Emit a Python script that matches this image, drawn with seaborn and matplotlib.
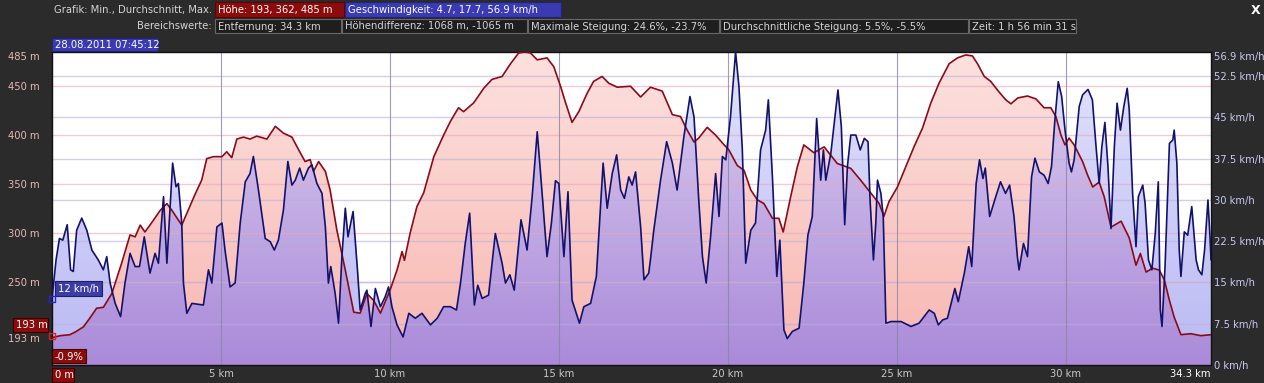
import numpy as np
import pandas as pd
import matplotlib
matplotlib.use("Agg")
import matplotlib.pyplot as plt
import matplotlib.transforms as mtransforms
from matplotlib.patches import Rectangle
import seaborn as sns

# Höhenprofil (km, m)
hoehe_km = [0.00, 0.25, 0.53, 0.70, 0.93, 1.10, 1.32, 1.52, 1.77, 2.06, 2.31, 2.46, 2.61, 2.75, 2.90,
            3.20, 3.40, 3.55, 3.84, 3.99, 4.24, 4.43, 4.58, 4.78, 5.03, 5.17, 5.32, 5.47, 5.67, 5.86,
            6.06, 6.36, 6.61, 6.85, 7.10, 7.30, 7.49, 7.64, 7.74, 7.89, 8.09, 8.23, 8.43, 8.68, 8.93,
            9.12, 9.32, 9.52, 9.72, 10.01, 10.21, 10.36, 10.43, 10.60, 10.80, 11.00, 11.30, 11.59, 11.79,
            12.03, 12.18, 12.48, 12.78, 13.02, 13.32, 13.57, 13.81, 14.00, 14.16, 14.36, 14.65, 14.85,
            15.05, 15.20, 15.39, 15.59, 15.84, 16.03, 16.28, 16.48, 16.73, 17.12, 17.42, 17.71, 18.06,
            18.36, 18.60, 18.80, 19.00, 19.14, 19.39, 19.64, 19.84, 20.03, 20.28, 20.48, 20.68, 20.87,
            21.07, 21.32, 21.51, 21.64, 21.86, 22.06, 22.25, 22.55, 22.85, 23.24, 23.64, 23.93, 24.23,
            24.48, 24.62, 24.77, 25.02, 25.27, 25.51, 25.76, 26.01, 26.25, 26.55, 26.80, 27.04, 27.24,
            27.39, 27.59, 27.78, 28.03, 28.23, 28.38, 28.58, 28.87, 29.12, 29.36, 29.56, 29.71, 29.86,
            29.98, 30.10, 30.25, 30.50, 30.65, 30.80, 30.99, 31.14, 31.34, 31.64, 31.88, 32.08, 32.21,
            32.38, 32.57, 32.77, 32.92, 33.07, 33.21, 33.41, 33.70, 34.00, 34.30]
hoehe_m = [193, 195, 196, 199, 204, 212, 223, 224, 238, 269, 298, 296, 308, 301, 308,
           323, 330, 323, 308, 320, 340, 354, 376, 378, 378, 383, 377, 396, 398, 396,
           399, 396, 409, 402, 398, 385, 373, 375, 363, 373, 363, 344, 303, 262, 219,
           218, 238, 231, 218, 242, 262, 281, 272, 300, 327, 341, 378, 400, 414,
           428, 424, 433, 448, 457, 460, 473, 484, 485, 484, 477, 479, 470,
           450, 433, 413, 424, 443, 455, 460, 453, 449, 450, 439, 449, 445,
           421, 419, 405, 393, 397, 408, 400, 392, 385, 369, 364, 344, 334,
           330, 315, 315, 301, 337, 368, 390, 382, 388, 371, 366, 354, 341,
           330, 317, 332, 347, 368, 388, 407, 433, 453, 473, 479, 482, 481,
           473, 460, 455, 444, 436, 432, 438, 440, 437, 428, 428, 419, 400,
           390, 397, 390, 373, 359, 347, 352, 337, 306, 312, 295, 267, 279,
           260, 264, 262, 252, 231, 214, 196, 197, 195, 196]

# Geschwindigkeit (km, km/h)
tempo_km = [0.00, 0.12, 0.22, 0.32, 0.45, 0.55, 0.63, 0.73, 0.88, 1.03, 1.18, 1.37, 1.52, 1.62, 1.72,
            1.87, 2.03, 2.16, 2.31, 2.46, 2.59, 2.73, 2.90, 3.05, 3.15, 3.30, 3.40, 3.50, 3.57, 3.67,
            3.74, 3.84, 3.89, 3.99, 4.14, 4.48, 4.63, 4.73, 4.88, 5.03, 5.12, 5.27, 5.42, 5.57, 5.72,
            5.86, 5.96, 6.11, 6.31, 6.46, 6.58, 6.70, 6.85, 6.98, 7.10, 7.20, 7.33, 7.44, 7.59, 7.69,
            7.84, 7.99, 8.09, 8.18, 8.25, 8.38, 8.48, 8.58, 8.68, 8.76, 8.91, 9.04, 9.12, 9.27, 9.32,
            9.44, 9.57, 9.72, 9.86, 9.96, 10.06, 10.21, 10.39, 10.56, 10.75, 10.95, 11.20, 11.40, 11.59,
            11.79, 11.97, 12.09, 12.23, 12.36, 12.50, 12.60, 12.73, 12.92, 13.12, 13.32, 13.42, 13.55,
            13.68, 13.88, 14.06, 14.21, 14.36, 14.45, 14.65, 14.78, 14.90, 15.00, 15.15, 15.27, 15.39,
            15.61, 15.74, 15.94, 16.11, 16.31, 16.43, 16.58, 16.71, 16.83, 16.94, 17.07, 17.17, 17.27,
            17.42, 17.52, 17.66, 17.71, 17.81, 18.01, 18.19, 18.36, 18.50, 18.70, 18.88, 19.00, 19.14,
            19.25, 19.36, 19.49, 19.64, 19.74, 19.84, 19.94, 20.08, 20.23, 20.33, 20.43, 20.53, 20.68,
            20.82, 20.97, 21.12, 21.20, 21.32, 21.45, 21.54, 21.66, 21.76, 21.91, 22.11, 22.25, 22.37,
            22.50, 22.63, 22.75, 22.83, 22.90, 23.05, 23.17, 23.26, 23.36, 23.46, 23.54, 23.64, 23.79,
            23.92, 24.04, 24.15, 24.21, 24.31, 24.38, 24.43, 24.53, 24.60, 24.68, 24.83, 25.13, 25.42,
            25.66, 25.96, 26.11, 26.23, 26.36, 26.50, 26.72, 26.82, 27.00, 27.13, 27.22, 27.35, 27.45,
            27.55, 27.62, 27.75, 27.90, 28.07, 28.22, 28.34, 28.47, 28.57, 28.62, 28.75, 28.87, 28.99,
            29.09, 29.22, 29.36, 29.48, 29.58, 29.68, 29.78, 29.88, 29.98, 30.10, 30.17, 30.25, 30.40,
            30.50, 30.66, 30.79, 30.89, 30.99, 31.07, 31.16, 31.25, 31.34, 31.44, 31.52, 31.62, 31.72,
            31.82, 31.88, 31.98, 32.08, 32.15, 32.28, 32.35, 32.45, 32.55, 32.65, 32.74, 32.80, 32.85,
            32.94, 33.07, 33.17, 33.21, 33.29, 33.36, 33.41, 33.51, 33.61, 33.73, 33.86, 33.93, 34.03,
            34.11, 34.21, 34.27, 34.30]
tempo_kmh = [12.0, 19.1, 23.0, 22.7, 25.5, 17.3, 17.0, 24.5, 26.7, 24.5, 20.9, 19.1, 17.3, 19.7, 14.9,
             11.2, 8.8, 14.9, 20.3, 17.9, 17.9, 23.3, 16.7, 20.3, 18.5, 30.6, 18.5, 29.4, 36.7, 32.4,
             33.0, 25.8, 14.9, 9.4, 11.2, 10.9, 17.3, 14.9, 25.1, 25.8, 20.9, 14.2, 14.9, 25.8, 33.3,
             34.8, 37.9, 31.8, 23.0, 22.4, 20.9, 22.7, 28.2, 37.0, 32.7, 33.6, 35.8, 33.6, 35.8, 36.4,
             33.0, 31.2, 25.1, 14.9, 17.9, 13.0, 7.6, 19.7, 28.5, 23.3, 27.9, 17.3, 10.0, 13.0, 13.6,
             7.0, 13.9, 10.6, 12.4, 14.2, 10.6, 7.3, 5.1, 9.4, 8.5, 9.4, 7.3, 8.5, 10.6,
             10.6, 10.0, 14.9, 22.1, 27.6, 10.9, 14.5, 12.1, 12.7, 23.9, 18.5, 14.9, 16.4,
             13.6, 26.4, 20.9, 30.6, 42.4, 35.5, 19.7, 25.8, 33.5, 33.0, 19.7, 31.5, 11.8,
             7.6, 10.6, 11.2, 16.1, 36.7, 28.5, 34.8, 38.2, 31.8, 30.3, 34.2, 32.7, 35.1,
             25.1, 15.5, 16.7, 19.1, 24.5, 33.6, 40.6, 36.7, 31.8, 41.5, 48.8, 45.1, 30.0,
             19.7, 14.9, 23.3, 34.8, 27.0, 37.9, 37.3, 45.1, 56.9, 50.6, 39.1, 18.5, 24.5,
             25.8, 39.1, 42.7, 48.2, 34.2, 16.1, 22.7, 6.4, 4.8, 6.1, 6.7, 14.9, 23.6,
             27.0, 44.8, 33.6, 39.1, 33.6, 38.5, 45.1, 50.0, 43.3, 25.5, 36.1, 41.8, 41.8,
             39.1, 41.2, 40.6, 30.0, 19.1, 25.8, 33.6, 31.2, 27.0, 7.6, 7.9, 7.9, 7.0,
             7.6, 10.0, 9.4, 7.3, 8.2, 8.5, 13.9, 11.5, 16.7, 21.5, 17.9, 33.0, 37.3,
             33.9, 35.8, 27.0, 30.0, 33.3, 31.2, 32.7, 27.0, 19.7, 17.3, 22.1, 19.7, 34.2,
             37.6, 35.1, 34.5, 33.0, 36.1, 44.5, 51.5, 48.8, 42.7, 36.7, 35.1, 37.3, 47.0,
             49.1, 50.1, 48.2, 40.3, 33.0, 39.7, 44.1, 36.1, 24.8, 39.7, 47.6, 42.7, 47.0,
             50.3, 46.4, 31.2, 21.5, 30.6, 32.7, 29.4, 19.1, 17.3, 23.9, 33.3, 10.0, 7.0,
             17.9, 40.3, 40.9, 42.7, 36.7, 20.9, 16.1, 24.2, 23.6, 28.8, 19.1, 17.3, 16.4,
             20.9, 30.0, 23.3, 19.1]

hoehe_ticks = [193, 250, 300, 350, 400, 450, 485]
tempo_ticks = [0, 7.5, 15, 22.5, 30, 37.5, 45, 52.5, 56.9]
km_ticks = [5, 10, 15, 20, 25, 30, 34.3]

hoehe = pd.DataFrame({"km": hoehe_km, "m": hoehe_m})
tempo = pd.DataFrame({"km": tempo_km, "kmh": tempo_kmh})

W, H = 1264, 383
BG = "#2b2b2b"
FS = 7.2
sns.set_theme(style="white")
plt.rcParams["font.family"] = ["DejaVu Sans"]
plt.rcParams["font.size"] = FS

fig = plt.figure(figsize=(W / 100, H / 100), dpi=100, facecolor=BG)
L, R, T, B = 52, 1211, 52, 365
ax = fig.add_axes([L / W, 1 - B / H, (R - L) / W, (B - T) / H])
ax.set_facecolor("white")
ax2 = ax.twinx()

HLIM = (165, 485)
SLIM = (0, 56.9)
XLIM = (0, 34.3)
ax.set_xlim(XLIM)
ax.set_ylim(HLIM)
ax2.set_ylim(SLIM)

# Flächen: Höhe rosa, Tempo blau, Überlappung lila
rosa = ax.fill_between(hoehe.km, HLIM[0], hoehe.m, color="#f8b6b0", lw=0, zorder=1)
ax.fill_between(tempo.km, 0, tempo.kmh, color="#bab9f4", lw=0, zorder=1.1, transform=ax2.transData)
lila = ax.fill_between(tempo.km, 0, tempo.kmh, color="#aa8ad9", lw=0, zorder=1.2, transform=ax2.transData)
lila.set_clip_path(rosa.get_paths()[0], ax.transData)

# heller Verlauf nach oben
grad = np.ones((256, 1, 4))
grad[:, 0, 3] = np.linspace(0.6, 0.0, 256)
ax.imshow(grad, extent=(0, 1, 0, 1), transform=ax.transAxes, aspect="auto",
          interpolation="bilinear", zorder=1.5)

# Gitterlinien
trans_s = mtransforms.blended_transform_factory(ax.transAxes, ax2.transData)
for v in hoehe_ticks[1:-1]:
    ax.axhline(v, color="#eaa6bc", lw=1, alpha=0.6, zorder=1.6)
for v in tempo_ticks[1:-1]:
    ax.plot([0, 1], [v, v], transform=trans_s, color="#b8b0dc", lw=1, alpha=0.6, zorder=1.6)
for k in km_ticks[:-1]:
    ax.axvline(k, color="#8a84a4", lw=0.8, alpha=0.8, zorder=1.7)

sns.lineplot(data=hoehe, x="km", y="m", ax=ax, color="#8c0a16", lw=1.2,
             estimator=None, sort=False, zorder=3)
sns.lineplot(data=tempo, x="km", y="kmh", ax=ax2, color="#12126e", lw=1.2,
             estimator=None, sort=False, zorder=3)

ax.set_xlim(XLIM)
ax.set_ylim(HLIM)
ax2.set_ylim(SLIM)
ax.set_xlabel("")
ax.set_ylabel("")
ax2.set_xlabel("")
ax2.set_ylabel("")

for sp in ax.spines.values():
    sp.set_color("#111111")
    sp.set_linewidth(1)
for sp in ax2.spines.values():
    sp.set_visible(False)

ax.set_yticks(hoehe_ticks)
ax.set_yticklabels([f"{v} m" for v in hoehe_ticks])
ax.tick_params(axis="y", length=0, pad=9, labelsize=FS, labelcolor="#e8b8b8")
ax2.set_yticks(tempo_ticks)
ax2.set_yticklabels([f"{v:g} km/h" for v in tempo_ticks])
ax2.tick_params(axis="y", length=0, pad=2, labelsize=FS, labelcolor="#c8c8f2")
ax.set_xticks(km_ticks)
ax.set_xticklabels([f"{v:g} km" for v in km_ticks])
ax.tick_params(axis="x", length=0, pad=3, labelsize=FS, labelcolor="#c8c8c8")
ax.get_yticklabels()[-1].set_va("top")
ax2.get_yticklabels()[-1].set_va("top")
ax.get_xticklabels()[-1].set_ha("right")
ax.get_xticklabels()[-1].set_color("white")


def fpos(x, y):
    return x / W, 1 - y / H


def box(x0, x1, y0, y1, text, fc, ec, tc="white", z=5):
    fig.add_artist(Rectangle(fpos(x0, y1), (x1 - x0) / W, (y1 - y0) / H,
                             transform=fig.transFigure, facecolor=fc, edgecolor=ec,
                             lw=0.8, zorder=z))
    fig.text(*fpos(x0 + 3, (y0 + y1) / 2 + 0.5), text, color=tc, va="center",
             ha="left", fontsize=FS, zorder=z + 1)


ROT, ROT_R = "#8c0c0c", "#5a0404"
BLAU, BLAU_R = "#3a3ab2", "#24246e"
DUNKEL, DUNKEL_R = "#1e1e1e", "#686868"

# Kopfzeilen
fig.text(*fpos(212, 10), "Grafik: Min., Durchschnitt, Max.", color="#d4d4d4",
         ha="right", va="center", fontsize=FS)
box(215, 344, 2, 17, "Höhe: 193, 362, 485 m", ROT, ROT_R)
box(345, 561, 2, 17, "Geschwindigkeit: 4.7, 17.7, 56.9 km/h", BLAU, BLAU_R)

fig.text(*fpos(212, 26), "Bereichswerte:", color="#d4d4d4", ha="right", va="center", fontsize=FS)
box(215, 341, 19, 33, "Entfernung: 34.3 km", DUNKEL, DUNKEL_R, "#d4d4d4")
box(342, 527, 19, 33, "Höhendifferenz: 1068 m, -1065 m", DUNKEL, DUNKEL_R, "#d4d4d4")
box(528, 719, 19, 33, "Maximale Steigung: 24.6%, -23.7%", DUNKEL, DUNKEL_R, "#d4d4d4")
box(720, 968, 19, 33, "Durchschnittliche Steigung: 5.5%, -5.5%", DUNKEL, DUNKEL_R, "#d4d4d4")
box(969, 1076, 19, 33, "Zeit: 1 h 56 min 31 s", DUNKEL, DUNKEL_R, "#d4d4d4")

box(52, 158, 38, 51, "28.08.2011 07:45:12", BLAU, BLAU_R)
fig.text(*fpos(1256, 10), "X", color="white", ha="center", va="center",
         fontsize=9, fontweight="bold")

# Cursor-Markierungen links
box(55, 102, 281, 296, "12 km/h", "#3c3ca6", "#20205a", z=6)
box(13, 48, 318, 332, "193 m", ROT, "#3a0000", z=6)
box(52, 86, 349, 363, "-0.9%", ROT, "#3a0000", z=6)
box(52, 74, 368, 382, "0 m", ROT, "#3a0000", z=6)
fig.add_artist(Rectangle(fpos(49, 302), 6 / W, 6 / H, transform=fig.transFigure,
                         facecolor="none", edgecolor="#2424d0", lw=1, zorder=6))
fig.add_artist(Rectangle(fpos(49, 339), 6 / W, 6 / H, transform=fig.transFigure,
                         facecolor="none", edgecolor="#e02020", lw=1, zorder=6))

fig.savefig("out.png", dpi=100, facecolor=BG)
